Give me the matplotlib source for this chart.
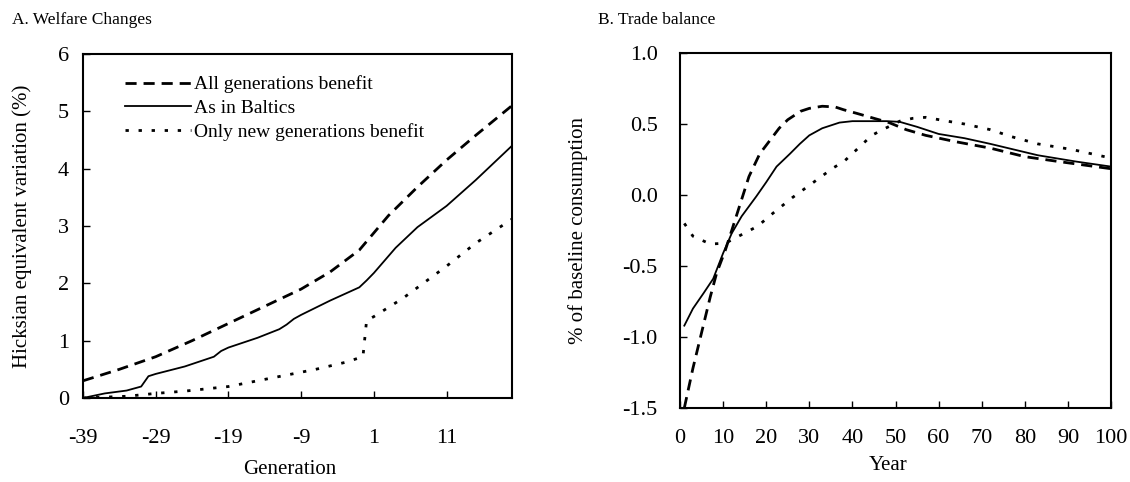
import matplotlib
matplotlib.use("Agg")
from matplotlib import pyplot as plt

plt.rcParams['font.family'] = ['Liberation Serif', 'DejaVu Serif']
plt.rcParams['axes.unicode_minus'] = False

# Panel A: welfare changes by generation
gen_all = [-39, -34, -29, -24, -19, -14, -9, -5, -1, 1, 3, 7, 11, 15, 20]
welfare_all = [0.30, 0.50, 0.72, 1.00, 1.30, 1.60, 1.90, 2.20, 2.58, 2.88, 3.18, 3.68, 4.15, 4.58, 5.10]

gen_baltic = [-39, -36, -33, -31, -30, -29, -25, -21, -20, -19, -15, -12, -11, -10, -9, -5, -1, 0, 1, 4, 7, 11, 15, 20]
welfare_baltic = [0.00, 0.08, 0.13, 0.20, 0.38, 0.42, 0.55, 0.72, 0.82, 0.88, 1.05, 1.20, 1.28, 1.38, 1.45, 1.70, 1.93, 2.05, 2.18, 2.62, 2.98, 3.35, 3.80, 4.40]

gen_new = [-39, -33, -29, -25, -19, -15, -11, -7, -3, -1, -0.5, 0, 1, 5, 11, 15, 20]
welfare_new = [0.00, 0.03, 0.08, 0.12, 0.20, 0.30, 0.40, 0.50, 0.62, 0.70, 0.72, 1.35, 1.42, 1.74, 2.30, 2.70, 3.12]

gen_ticks = [-39, -29, -19, -9, 1, 11]

# Panel B: trade balance by year
year_all = [1, 3, 5, 7, 8.5, 10.5, 12, 14, 16, 18.5, 21, 23, 25, 28, 30, 33, 36, 38, 41, 45, 48.5, 52.5, 57, 64, 72, 80, 88, 100]
trade_all = [-1.50, -1.22, -0.97, -0.72, -0.55, -0.39, -0.25, -0.06, 0.13, 0.29, 0.39, 0.47, 0.53, 0.59, 0.61, 0.625, 0.62, 0.60, 0.575, 0.54, 0.51, 0.46, 0.42, 0.375, 0.33, 0.27, 0.235, 0.185]

year_baltic = [1, 3, 5.5, 7.7, 10, 12, 14.3, 17.7, 20, 22.4, 25.5, 27.8, 30, 33, 37, 40, 48, 51, 55, 60, 66, 72, 83, 92, 100]
trade_baltic = [-0.92, -0.80, -0.69, -0.59, -0.41, -0.27, -0.15, -0.01, 0.09, 0.20, 0.29, 0.36, 0.42, 0.47, 0.51, 0.52, 0.52, 0.515, 0.48, 0.43, 0.40, 0.36, 0.28, 0.235, 0.20]

year_new = [1, 3, 7, 10.5, 13, 18, 21.5, 26, 31, 35.5, 38, 41, 44.5, 47, 51, 54, 57, 62, 66, 72, 77, 83, 91, 100]
trade_new = [-0.20, -0.29, -0.345, -0.34, -0.30, -0.22, -0.13, -0.02, 0.09, 0.19, 0.235, 0.32, 0.42, 0.46, 0.52, 0.54, 0.547, 0.52, 0.50, 0.46, 0.41, 0.36, 0.32, 0.26]

year_ticks = list(range(0, 101, 10))
trade_ticks = [-1.5, -1.0, -0.5, 0.0, 0.5, 1.0]

series_labels = ["All generations benefit", "As in Baltics", "Only new generations benefit"]

dash_style = (0, (4, 2.5))
dot_style = (0, (1.2, 3.5))

fig = plt.figure(figsize=(11.3, 4.82), dpi=100)
W, H = 1130, 482

def px_axes(left, top, right, bottom):
    return fig.add_axes([left / W, 1 - bottom / H, (right - left) / W, (bottom - top) / H])

def style_axes(ax):
    for spine in ax.spines.values():
        spine.set_linewidth(1.5)
    ax.tick_params(direction='in', length=5, width=1.0, labelsize=16)

"""
Panel A
"""
ax_a = px_axes(83, 54, 512, 398)
ax_a.plot(gen_all, welfare_all, color='black', lw=2.0, linestyle=dash_style, label=series_labels[0])
ax_a.plot(gen_baltic, welfare_baltic, color='black', lw=1.3, label=series_labels[1])
ax_a.plot(gen_new, welfare_new, color='black', lw=2.0, linestyle=dot_style, label=series_labels[2])
ax_a.set_xlim(-39, 20)
ax_a.set_ylim(0, 6)
ax_a.set_xticks(gen_ticks)
ax_a.set_yticks(range(0, 7))
style_axes(ax_a)
ax_a.tick_params(axis='x', pad=22)
ax_a.tick_params(axis='y', pad=10)
ax_a.legend(loc='upper left', bbox_to_anchor=(0.08, 0.96), frameon=False,
            fontsize=14, handlelength=3.4, handletextpad=0.15, labelspacing=0.3,
            borderaxespad=0)

fig.text(12 / W, 1 - 20 / H, "A. Welfare Changes", fontsize=12.5, va='center', ha='left')
fig.text(22 / W, 1 - 226 / H, "Hicksian equivalent variation (%)", fontsize=15,
         rotation=90, va='center', ha='center')
fig.text(290 / W, 1 - 470 / H, "Generation", fontsize=15, va='center', ha='center')

"""
Panel B
"""
ax_b = px_axes(680, 53, 1111, 408)
ax_b.plot(year_all, trade_all, color='black', lw=2.0, linestyle=dash_style)
ax_b.plot(year_baltic, trade_baltic, color='black', lw=1.3)
ax_b.plot(year_new, trade_new, color='black', lw=2.0, linestyle=dot_style)
ax_b.set_xlim(0, 100)
ax_b.set_ylim(-1.5, 1.0)
ax_b.set_xticks(year_ticks)
ax_b.set_yticks(trade_ticks)
ax_b.set_yticklabels([f"{t:.1f}" for t in trade_ticks])
style_axes(ax_b)
ax_b.tick_params(axis='x', pad=15)
ax_b.tick_params(axis='y', pad=16)

fig.text(598 / W, 1 - 20 / H, "B. Trade balance", fontsize=12.5, va='center', ha='left')
fig.text(578 / W, 1 - 230 / H, "% of baseline consumption", fontsize=15,
         rotation=90, va='center', ha='center')
fig.text(888 / W, 1 - 466 / H, "Year", fontsize=15, va='center', ha='center')

plt.savefig("out.png", dpi=100)
plt.close()
